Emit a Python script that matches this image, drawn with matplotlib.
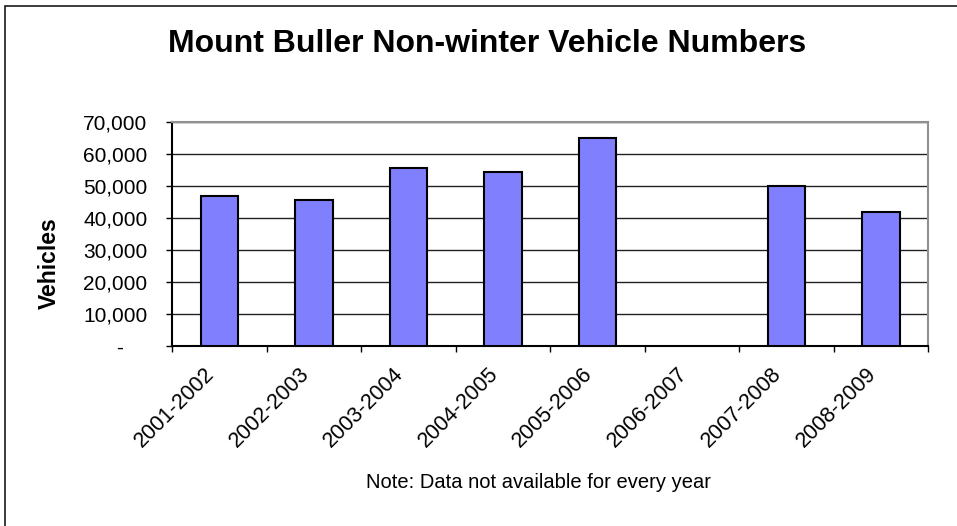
import numpy as np
import matplotlib
matplotlib.use("Agg")
import matplotlib.pyplot as plt
import matplotlib.transforms as mtransforms
from matplotlib.patches import Rectangle

plt.rcParams['font.family'] = ['Liberation Sans', 'DejaVu Sans']

seasons = ["2001-2002", "2002-2003", "2003-2004", "2004-2005",
           "2005-2006", "2006-2007", "2007-2008", "2008-2009"]
vehicles = [46800, 45600, 55500, 54400, 64900, np.nan, 49900, 41800]
y_ticks = [0, 10000, 20000, 30000, 40000, 50000, 60000, 70000]
y_tick_labels = ["-    ", "10,000", "20,000", "30,000", "40,000",
                 "50,000", "60,000", "70,000"]

fig = plt.figure(figsize=(9.57, 5.26), dpi=100)
fig.patch.set_facecolor("white")

# outer chart frame (only top/left edges fall inside the picture)
fig.patches.append(Rectangle((4.5 / 957, -0.05), 1.2, 1 - 5.5 / 526 + 0.05,
                             transform=fig.transFigure, fill=False,
                             edgecolor="#1a1a1a", linewidth=1.2, zorder=0))

ax = fig.add_axes([172.3 / 957, 1 - 346 / 526, 756 / 957, 224 / 526])

x = np.arange(len(seasons))
vals = np.array(vehicles, dtype=float)
have = ~np.isnan(vals)
ax.bar(x[have], vals[have], width=0.4, color="#8080FF",
       edgecolor="black", linewidth=1.5, zorder=3)

ax.set_xlim(-0.5, len(seasons) - 0.5)
ax.set_ylim(0, 70000)
ax.set_yticks(y_ticks)
ax.set_yticklabels(y_tick_labels, fontsize=15)
ax.yaxis.grid(True, color="#222222", linewidth=1.0, zorder=1)
ax.set_axisbelow(True)

# category labels drawn as rotated text, nudged left/down like Excel does
ax.set_xticks(np.arange(len(seasons) + 1) - 0.5)
ax.set_xticklabels([])
ax.tick_params(axis="x", length=4.5, width=1.0, direction="out")
shift = mtransforms.ScaledTranslation(-0.08, -0.25, fig.dpi_scale_trans)
for xi, name in zip(x, seasons):
    ax.text(xi, 0, name, transform=ax.get_xaxis_transform() + shift,
            fontsize=15.5, rotation=45, ha="right", va="center",
            rotation_mode="anchor")
ax.tick_params(axis="y", length=4.5, width=1.0, direction="out", pad=13.5)

for side in ["top", "right"]:
    ax.spines[side].set_color("#909090")
    ax.spines[side].set_linewidth(1.5)
for side in ["left", "bottom"]:
    ax.spines[side].set_color("black")
    ax.spines[side].set_linewidth(1.5)

ax.set_ylabel("Vehicles", fontsize=16.5, fontweight="bold")
ax.yaxis.set_label_coords(61 / 957, 0.5, transform=fig.transFigure)

fig.text(487 / 957, 1 - 44.5 / 526,
         "Mount Buller Non-winter Vehicle Numbers",
         fontsize=23, fontweight="bold", ha="center", va="center")
fig.text(539 / 957, 1 - 482 / 526, "Note: Data not available for every year",
         fontsize=14.5, ha="center", va="center")

fig.savefig("out.png", dpi=100, facecolor="white")
